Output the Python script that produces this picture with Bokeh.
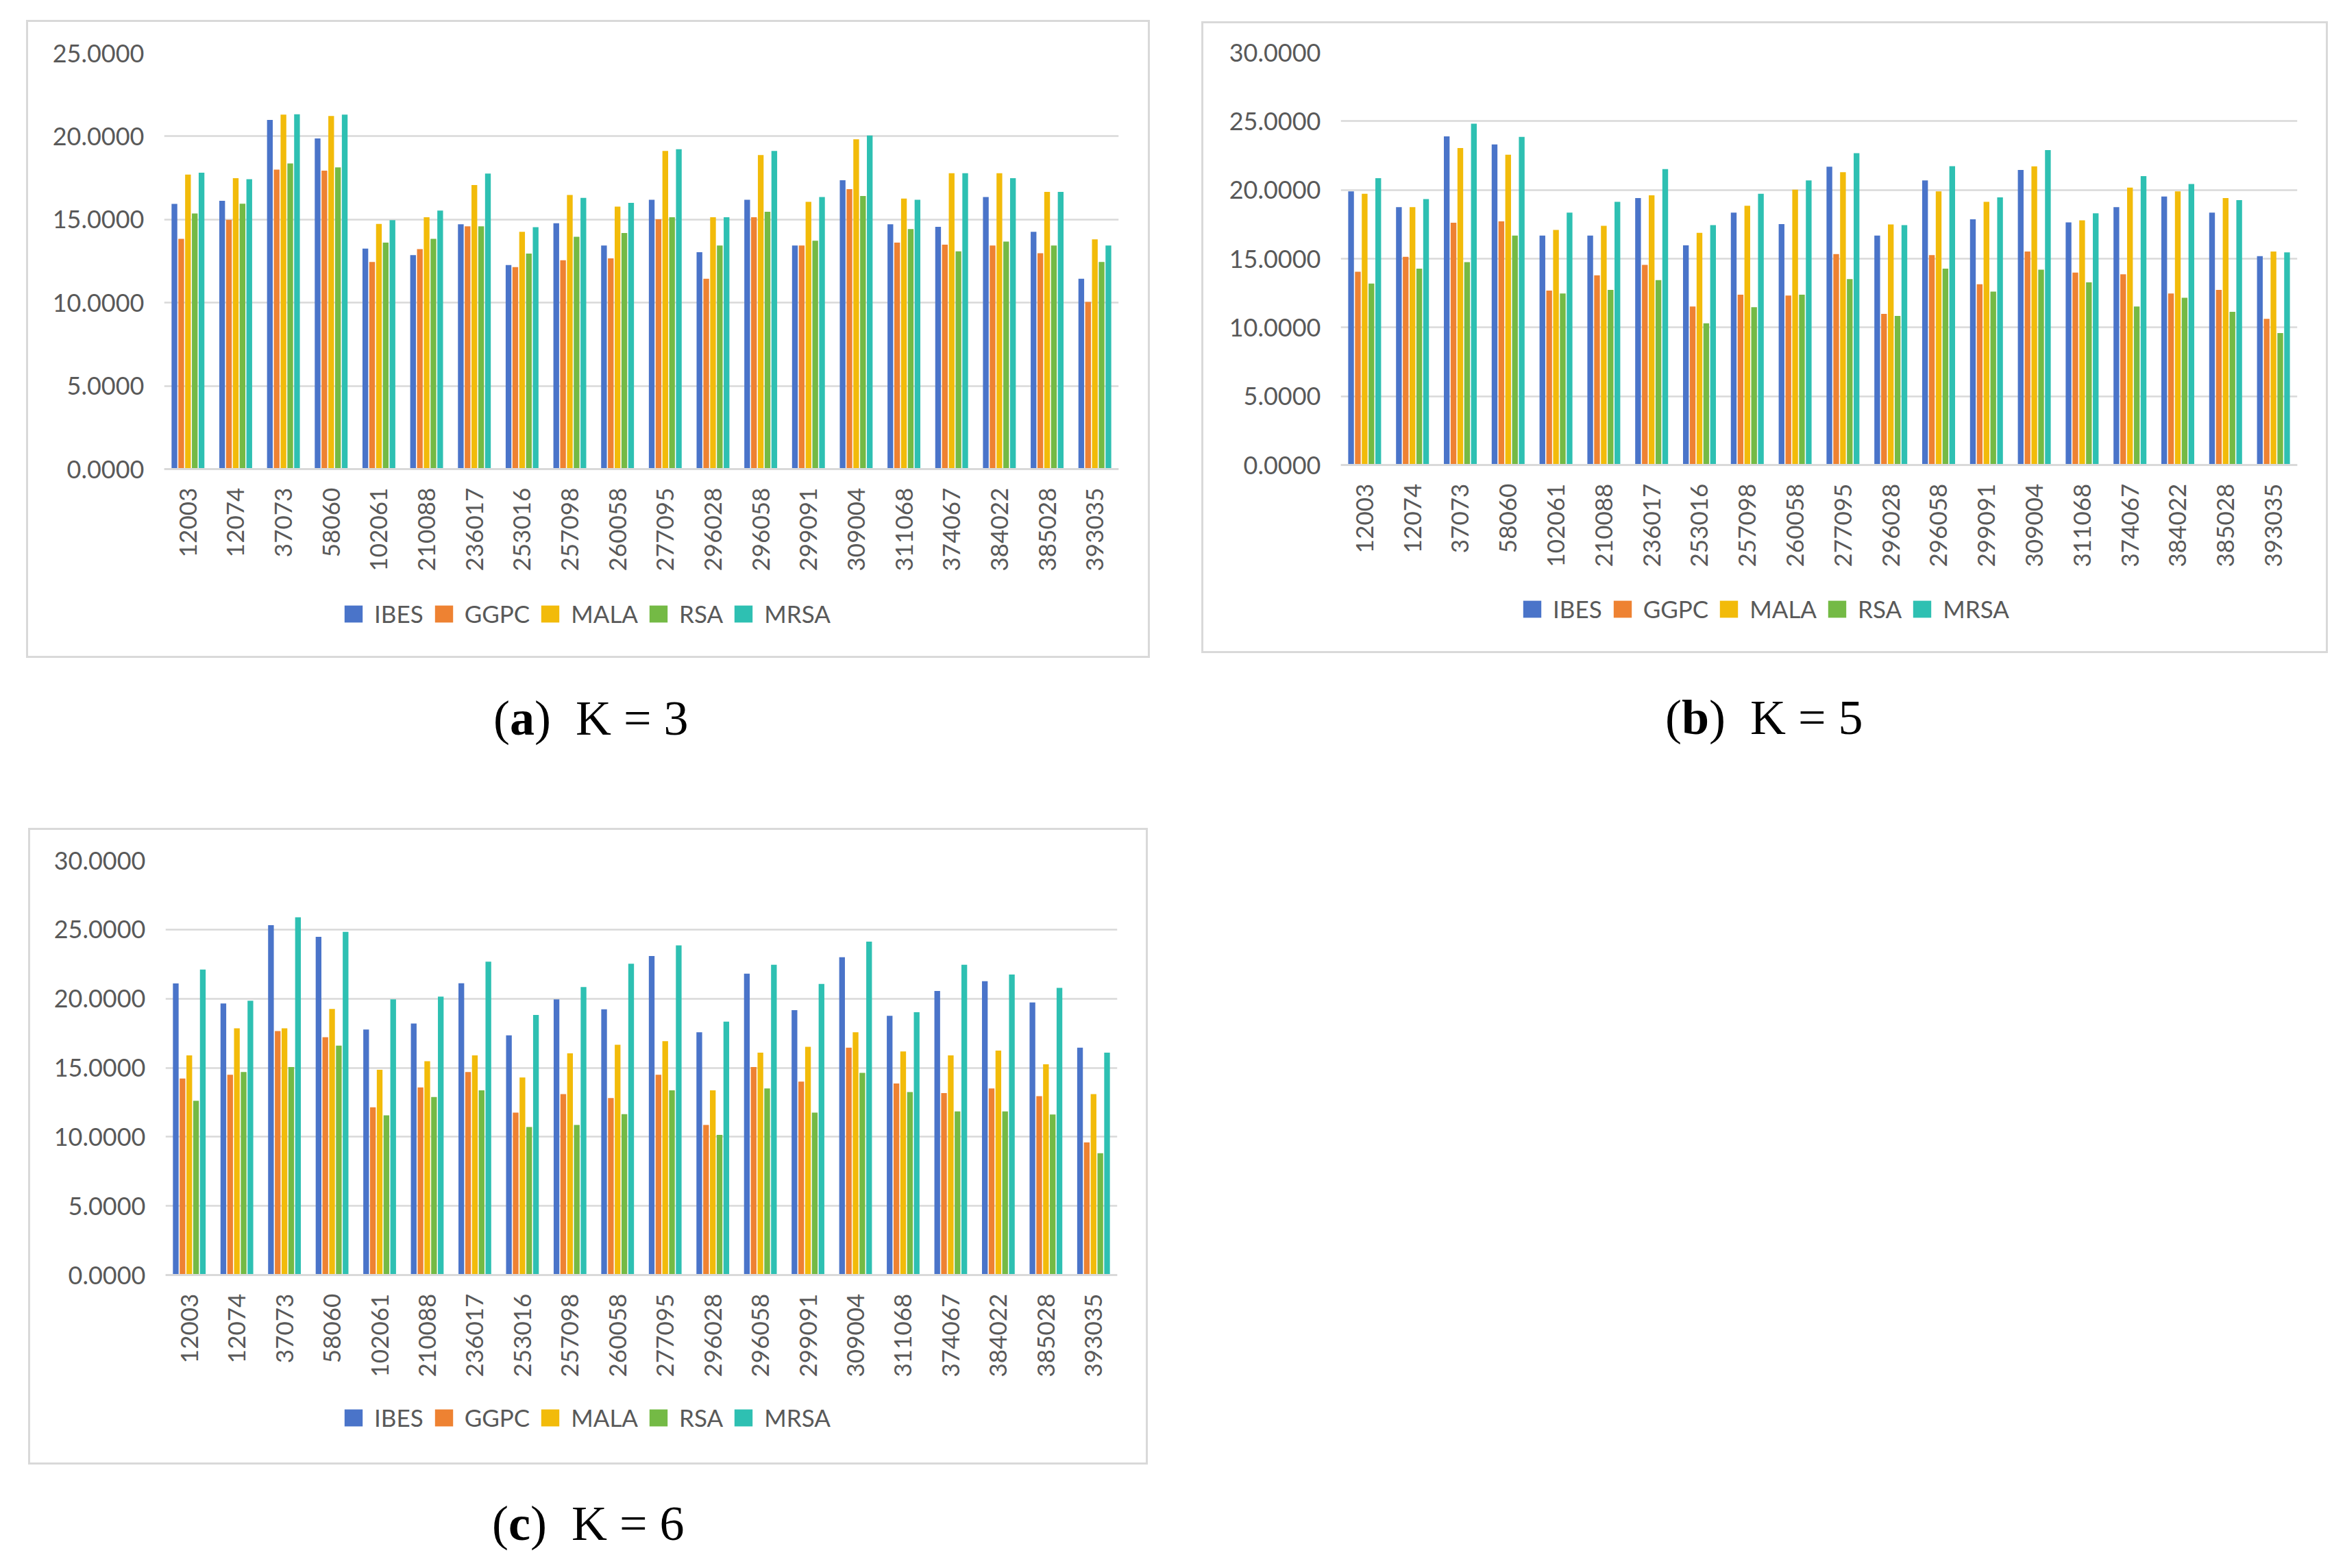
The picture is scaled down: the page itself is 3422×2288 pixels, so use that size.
import math
from bokeh.plotting import figure
from bokeh.models import (FactorRange, Range1d, FixedTicker, PrintfTickFormatter,
                          Legend, LegendItem, ColumnDataSource, Spacer, Div)
from bokeh.layouts import row, column
from bokeh.transform import dodge
from bokeh.embed import file_html
from bokeh.resources import INLINE

categories = ["12003", "12074", "37073", "58060", "102061", "210088", "236017", "253016",
              "257098", "260058", "277095", "296028", "296058", "299091", "309004", "311068",
              "374067", "384022", "385028", "393035"]
methods = ["IBES", "GGPC", "MALA", "RSA", "MRSA"]
colors = ["#4A74C9", "#EE8232", "#F2BB0A", "#74BA45", "#2EC0B2"]

# K = 3
IBES_3 = [15.94, 16.13, 20.99, 19.87, 13.26, 12.86, 14.72, 12.27, 14.78, 13.44, 16.19, 13.04, 16.19, 13.44, 17.36, 14.72, 14.56, 16.35, 14.26, 11.44]
GGPC_3 = [13.84, 14.98, 18.00, 17.94, 12.45, 13.22, 14.59, 12.14, 12.56, 12.67, 15.02, 11.44, 15.14, 13.44, 16.83, 13.62, 13.49, 13.44, 12.98, 10.05]
MALA_3 = [17.70, 17.49, 21.30, 21.22, 14.74, 15.14, 17.07, 14.26, 16.48, 15.78, 19.12, 15.14, 18.88, 16.06, 19.82, 16.26, 17.78, 17.78, 16.66, 13.81]
RSA_3 = [15.36, 15.95, 18.37, 18.13, 13.62, 13.84, 14.59, 12.96, 13.97, 14.19, 15.14, 13.44, 15.47, 13.73, 16.42, 14.43, 13.09, 13.68, 13.44, 12.45]
MRSA_3 = [17.82, 17.42, 21.33, 21.30, 14.96, 15.54, 17.76, 14.54, 16.30, 16.00, 19.23, 15.14, 19.12, 16.35, 20.05, 16.19, 17.78, 17.49, 16.66, 13.44]

# K = 5
IBES_5 = [19.90, 18.75, 23.90, 23.31, 16.69, 16.69, 19.41, 15.98, 18.36, 17.52, 21.69, 16.69, 20.69, 17.87, 21.45, 17.64, 18.75, 19.53, 18.36, 15.19]
GGPC_5 = [14.06, 15.14, 17.62, 17.72, 12.69, 13.79, 14.55, 11.53, 12.39, 12.32, 15.34, 10.99, 15.26, 13.15, 15.53, 13.99, 13.87, 12.47, 12.74, 10.63]
MALA_5 = [19.73, 18.75, 23.05, 22.57, 17.10, 17.40, 19.61, 16.88, 18.85, 20.02, 21.30, 17.50, 19.90, 19.14, 21.72, 17.79, 20.17, 19.90, 19.41, 15.53]
RSA_5 = [13.20, 14.28, 14.75, 16.69, 12.47, 12.74, 13.45, 10.31, 11.48, 12.39, 13.52, 10.85, 14.28, 12.61, 14.21, 13.28, 11.53, 12.17, 11.14, 9.60]
MRSA_5 = [20.86, 19.34, 24.82, 23.86, 18.36, 19.14, 21.52, 17.45, 19.73, 20.69, 22.68, 17.45, 21.73, 19.46, 22.90, 18.31, 21.01, 20.44, 19.26, 15.46]

# K = 6
IBES_6 = [21.10, 19.65, 25.32, 24.47, 17.77, 18.20, 21.12, 17.35, 19.95, 19.23, 23.08, 17.57, 21.81, 19.17, 23.00, 18.76, 20.56, 21.26, 19.73, 16.46]
GGPC_6 = [14.22, 14.50, 17.65, 17.21, 12.14, 13.58, 14.69, 11.76, 13.09, 12.81, 14.50, 10.87, 15.05, 14.00, 16.46, 13.86, 13.17, 13.50, 12.95, 9.60]
MALA_6 = [15.90, 17.85, 17.85, 19.25, 14.85, 15.47, 15.90, 14.30, 16.04, 16.66, 16.93, 13.37, 16.10, 16.52, 17.57, 16.18, 15.90, 16.24, 15.25, 13.09]
RSA_6 = [12.61, 14.69, 15.05, 16.60, 11.56, 12.89, 13.37, 10.71, 10.87, 11.64, 13.37, 10.15, 13.50, 11.76, 14.63, 13.25, 11.84, 11.84, 11.62, 8.82]
MRSA_6 = [22.11, 19.85, 25.88, 24.83, 19.95, 20.15, 22.67, 18.82, 20.84, 22.53, 23.85, 18.34, 22.45, 21.06, 24.13, 19.02, 22.45, 21.75, 20.78, 16.10]

yticks_3 = [0, 5, 10, 15, 20, 25]
yticks_56 = [0, 5, 10, 15, 20, 25, 30]

captions = [("a", "K = 3"), ("b", "K = 5"), ("c", "K = 6")]

FONT = "Lato"
GRAY = "#595959"
GRID = "#D9D9D9"
offsets = [-0.284, -0.142, 0.0, 0.142, 0.284]
BORDER = 3


def make_panel(series, ymax, ticks, w, h, ml, mr, mt, data_h, below_h, leg_x, leg_y):
    data = {"cat": categories}
    for m, s in zip(methods, series):
        data[m] = s
    src = ColumnDataSource(data)
    inner_h = h - 2 * BORDER
    mb = inner_h - mt - data_h - below_h
    ppu = data_h / ymax
    p = figure(x_range=FactorRange(factors=categories, range_padding=0),
               y_range=Range1d(-below_h / ppu, ymax), width=w, height=h,
               output_backend="svg", toolbar_location=None,
               min_border_left=ml, min_border_right=mr,
               min_border_top=mt, min_border_bottom=mb)
    p.outline_line_color = None
    p.styles = {"border": "%dpx solid #D9D9D9" % BORDER}
    items = []
    for m, c, off in zip(methods, colors, offsets):
        r = p.vbar(x=dodge("cat", off, range=p.x_range), top=m, bottom=0, width=0.12,
                   source=src, fill_color=c, line_color=None)
        items.append(LegendItem(label=m, renderers=[r]))
    p.xgrid.grid_line_color = None
    p.ygrid.grid_line_color = GRID
    p.ygrid.grid_line_width = 2.5
    p.yaxis.ticker = FixedTicker(ticks=ticks)
    p.yaxis.formatter = PrintfTickFormatter(format="%.4f")
    p.yaxis.axis_line_color = None
    p.yaxis.major_tick_line_color = None
    p.yaxis.minor_tick_line_color = None
    p.yaxis.major_tick_out = 0
    p.yaxis.major_tick_in = 0
    p.yaxis.minor_tick_out = 0
    p.yaxis.major_label_standoff = 29
    p.yaxis.major_label_text_font = FONT
    p.yaxis.major_label_text_font_size = "36px"
    p.yaxis.major_label_text_color = GRAY
    p.xaxis.fixed_location = 0
    p.xaxis.axis_line_color = GRID
    p.xaxis.axis_line_width = 3
    p.xaxis.major_tick_line_color = None
    p.xaxis.minor_tick_line_color = None
    p.xaxis.major_tick_out = 0
    p.xaxis.major_tick_in = 0
    p.xaxis.major_label_orientation = math.pi / 2
    p.xaxis.major_label_standoff = 27
    p.xaxis.major_label_text_font = FONT
    p.xaxis.major_label_text_font_size = "35px"
    p.xaxis.major_label_text_color = GRAY
    leg = Legend(items=items, orientation="horizontal", location=(leg_x, leg_y),
                 glyph_width=33, glyph_height=31, label_standoff=14, spacing=13,
                 padding=0, margin=0, border_line_color=None,
                 background_fill_alpha=0,
                 label_text_font=FONT, label_text_font_size="35px",
                 label_text_color=GRAY)
    p.add_layout(leg, "center")
    return p


def make_caption(letter, rest, w, h, left, top):
    html = ('<div style="margin-left:%dpx;margin-top:%dpx;'
            'font-family:\'Liberation Serif\',serif;font-size:72px;line-height:72px;'
            'white-space:nowrap;color:#000">(<b>%s</b>)&nbsp;&nbsp;%s</div>'
            % (left, top, letter, rest.replace(" ", "&nbsp;")))
    return Div(text=html, width=w, height=h, margin=0)


pa = make_panel([IBES_3, GGPC_3, MALA_3, RSA_3, MRSA_3], 25, yticks_3,
                1640, 931, 198, 49, 45, 603, 265, 260, 35)
pb = make_panel([IBES_5, GGPC_5, MALA_5, RSA_5, MRSA_5], 30, yticks_56,
                1644, 922, 200, 48, 42, 598, 264, 263, 35)
pc = make_panel([IBES_6, GGPC_6, MALA_6, RSA_6, MRSA_6], 30, yticks_56,
                1634, 929, 197, 48, 44, 601, 266, 258, 39)

ca = make_caption(captions[0][0], captions[0][1], 1640, 248, 682, 52)
cb = make_caption(captions[1][0], captions[1][1], 1644, 255, 677, 58)
cc = make_caption(captions[2][0], captions[2][1], 1634, 140, 677, 50)

layout = column(
    Spacer(height=29),
    row(Spacer(width=38), column(pa, ca), Spacer(width=75),
        column(Spacer(height=2), pb, cb)),
    row(Spacer(width=41), column(pc, cc)),
)

open("out.html", "w").write(file_html(layout, INLINE))
